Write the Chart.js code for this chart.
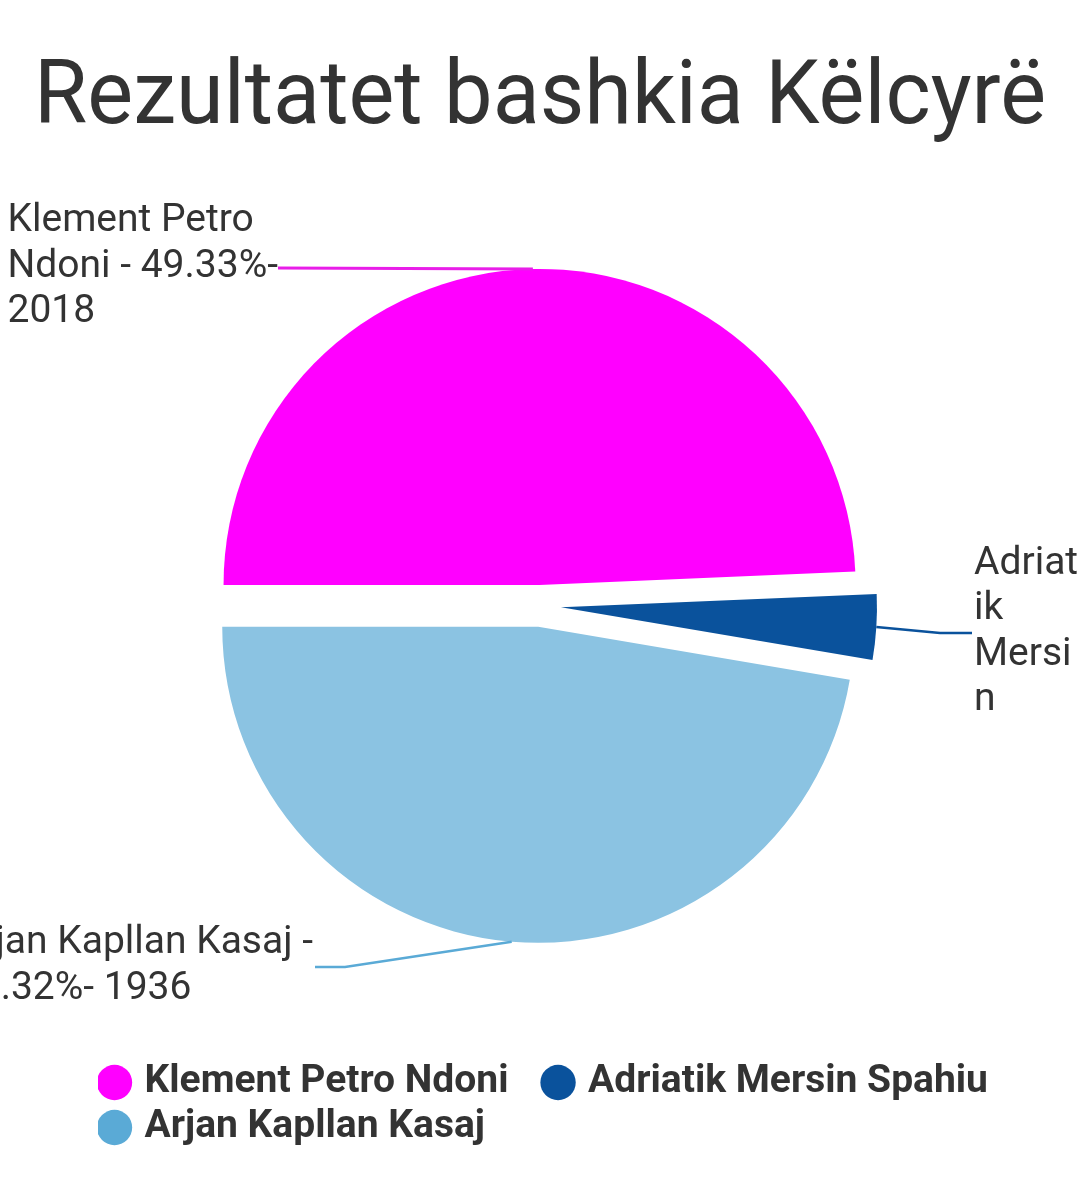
<!DOCTYPE html>
<html>
<head>
<meta charset="utf-8">
<script src="https://cdn.jsdelivr.net/npm/chart.js"></script>
<style>
  html, body { margin: 0; padding: 0; background: #fff; }
</style>
</head>
<body>
<canvas id="myChart" width="1080" height="1179"></canvas>
<script>
const chartTitle = "Rezultatet bashkia Këlcyrë";
const candidates = ["Klement Petro Ndoni", "Adriatik Mersin Spahiu", "Arjan Kapllan Kasaj"];
const votes = [2018, 137, 1936];
const sliceColors = ["#ff00ff", "#0a529c", "#8bc3e2"];
const legendColors = ["#ff00ff", "#0a529c", "#5aaad6"];
const lineColors = ["#e81ee8", "#0a529c", "#5aaad6"];

const total = votes.reduce((a, b) => a + b, 0);
const percents = votes.map(v => (v / total * 100).toFixed(2));

const explodeDist = 21; // every slice pulled out this far

// leader line elbow / end and how the outside label wraps
const labelLayout = [
  { elbow: [278, 268], end: [278, 268], side: "left", gap: 0, maxW: 285, maxLines: 3 },
  { elbow: [940, 633], end: [972, 633], side: "right", gap: 2, maxW: 108, maxLines: 4 },
  { elbow: [345, 967], end: [315, 967], side: "left", gap: 2, maxW: 375, maxLines: 2 },
];

Chart.defaults.font.family = "Roboto";

function wrapText(ctx, text, maxW, maxLines) {
  const words = text.split(" ");
  const lines = [];
  let line = "";
  for (const w of words) {
    const test = line ? line + " " + w : w;
    if (ctx.measureText(test).width <= maxW) { line = test; continue; }
    if (line) lines.push(line);
    let word = w;
    while (ctx.measureText(word).width > maxW) {
      let i = word.length;
      while (i > 1 && ctx.measureText(word.slice(0, i)).width > maxW) i--;
      lines.push(word.slice(0, i));
      word = word.slice(i);
    }
    line = word;
  }
  if (line) lines.push(line);
  return lines.slice(0, maxLines);
}

// draw the slices ourselves, each moved straight out along its middle angle
const explode = {
  id: "explode",
  beforeDatasetDraw(chart, args) {
    const ctx = chart.ctx;
    args.meta.data.forEach(arc => {
      const p = arc.getProps(["startAngle", "endAngle"], true);
      const mid = (p.startAngle + p.endAngle) / 2;
      ctx.save();
      ctx.translate(Math.cos(mid) * explodeDist, Math.sin(mid) * explodeDist);
      arc.draw(ctx, chart.chartArea);
      ctx.restore();
    });
    return false;
  }
};

const outsideLabels = {
  id: "outsideLabels",
  afterDatasetsDraw(chart) {
    const ctx = chart.ctx;
    const meta = chart.getDatasetMeta(0);
    meta.data.forEach((arc, i) => {
      const p = arc.getProps(["x", "y", "startAngle", "endAngle", "outerRadius"], true);
      const r = p.outerRadius + explodeDist;
      const mid = (p.startAngle + p.endAngle) / 2;
      const sx = p.x + Math.cos(mid) * r;
      const sy = p.y + Math.sin(mid) * r;
      const lay = labelLayout[i];

      ctx.save();
      ctx.strokeStyle = lineColors[i];
      ctx.lineWidth = i === 0 ? 3 : 2.5;
      ctx.beginPath();
      ctx.moveTo(sx, sy);
      ctx.lineTo(lay.elbow[0], lay.elbow[1]);
      ctx.lineTo(lay.end[0], lay.end[1]);
      ctx.stroke();

      ctx.font = "39px Roboto";
      ctx.fillStyle = "#333333";
      ctx.textBaseline = "middle";
      ctx.textAlign = "left";
      const text = candidates[i] + " - " + percents[i] + "%- " + votes[i];
      const lines = wrapText(ctx, text, lay.maxW, lay.maxLines);
      const lh = 45.5;
      const widest = Math.max(...lines.map(l => ctx.measureText(l).width));
      const tx = lay.side === "left" ? lay.end[0] - lay.gap - widest : lay.end[0] + lay.gap;
      const ty = lay.end[1] - (lines.length - 1) * lh / 2 - 1;
      lines.forEach((l, k) => ctx.fillText(l, tx, ty + k * lh));
      ctx.restore();
    });
  }
};

const boxShift = {
  id: "boxShift",
  afterLayout(chart) {
    chart.legend.left = 98;
    chart.legend.right = 1075;
    chart.titleBlock.left = 34;
    chart.titleBlock.right = 1046;
  }
};

new Chart(document.getElementById("myChart"), {
  type: "pie",
  data: {
    labels: candidates,
    datasets: [{
      data: votes,
      backgroundColor: sliceColors,
      borderWidth: 0,
    }],
  },
  options: {
    responsive: false,
    animation: false,
    rotation: -90,
    radius: 316,
    layout: { padding: { left: 40, right: 40, top: 0, bottom: 22 } },
    plugins: {
      title: {
        display: true,
        text: chartTitle,
        color: "#333333",
        font: { size: 89, weight: "normal" },
        padding: { top: 47, bottom: 1 },
      },
      legend: {
        position: "bottom",
        align: "start",
        labels: {
          usePointStyle: true,
          pointStyle: "circle",
          boxWidth: 21,
          boxHeight: 25,
          padding: 6,
          color: "#333333",
          font: { size: 39, weight: "bold" },
          generateLabels: () => candidates.map((c, i) => ({
            text: c + "   \u200A",
            fillStyle: legendColors[i],
            strokeStyle: legendColors[i],
            lineWidth: 0,
            pointStyle: "circle",
            hidden: false,
            index: i,
            fontColor: "#333333",
          })),
        },
      },
      tooltip: { enabled: false },
    },
  },
  plugins: [explode, outsideLabels, boxShift],
});
</script>
</body>
</html>
